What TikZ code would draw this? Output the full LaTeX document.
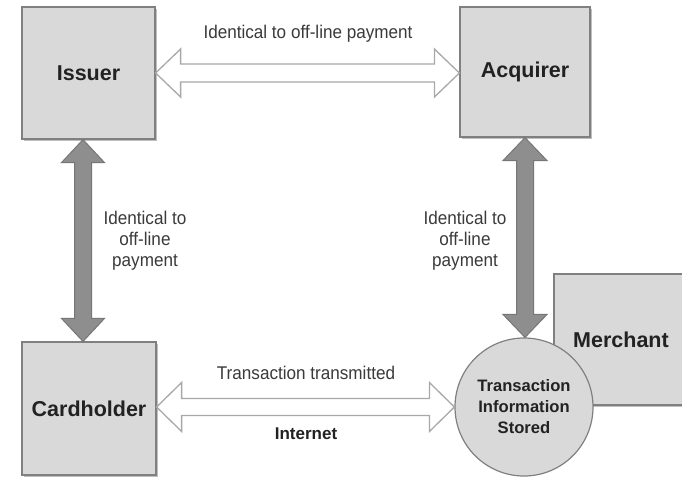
\documentclass[tikz,border=0pt]{standalone}
\usepackage{fontspec}
\setmainfont{Liberation Sans}
\newfontfamily\notefont[FakeStretch=0.93]{Liberation Sans}
\usetikzlibrary{calc,shadows,shapes.geometric}

\definecolor{boxfill}{HTML}{D9D9D9}
\definecolor{boxline}{HTML}{808080}
\definecolor{shaftfill}{HTML}{8E8E8E}
\definecolor{shaftline}{HTML}{767676}
\definecolor{hollowline}{HTML}{A8A8A8}
\definecolor{labeltext}{HTML}{222222}
\definecolor{notetext}{HTML}{3A3A3A}

\tikzset{
  party/.style={draw=boxline, fill=boxfill, line width=1.2pt, inner sep=0pt,
    text=labeltext, font=\fontsize{21.5}{25}\selectfont\bfseries,
    drop shadow={shadow xshift=1.5pt, shadow yshift=-1.5pt, opacity=0.25, fill=black}},
  store/.style={ellipse, draw=boxline, fill=boxfill, line width=1.2pt, inner sep=0pt,
    text=labeltext, align=center, font=\fontsize{16.6}{21}\selectfont\bfseries},
  note/.style={text=notetext, align=center, inner sep=0pt,
    font=\notefont\fontsize{18.4}{21}\selectfont},
  boldnote/.style={text=labeltext, align=center, inner sep=0pt,
    font=\fontsize{17}{21}\selectfont\bfseries},
  solidarrow/.style={fill=shaftfill, draw=shaftline, line width=1pt, line join=miter},
  hollowarrow/.style={fill=white, draw=hollowline, line width=1.3pt, line join=miter}
}

% Double-headed block arrow between two points:
% #1 style, #2 from, #3 to, #4 shaft half-width, #5 head half-width, #6 head length
\newcommand\blockarrow[6]{%
  \draw[#1]
    (#2)
    -- ($(#2)!#6!(#3)!#5!90:(#3)$)
    -- ($(#2)!#6!(#3)!#4!90:(#3)$)
    -- ($(#3)!#6!(#2)!#4!-90:(#2)$)
    -- ($(#3)!#6!(#2)!#5!-90:(#2)$)
    -- (#3)
    -- ($(#3)!#6!(#2)!#5!90:(#2)$)
    -- ($(#3)!#6!(#2)!#4!90:(#2)$)
    -- ($(#2)!#6!(#3)!#4!-90:(#3)$)
    -- ($(#2)!#6!(#3)!#5!-90:(#3)$)
    -- cycle;}

\begin{document}
\begin{tikzpicture}[x=1pt, y=-1pt]
  \useasboundingbox (0,0) rectangle (682,480);
  \clip (0,0) rectangle (682,480);
  \fill[white] (0,0) rectangle (682,480);

  % the four parties
  \node[party, minimum width=133pt, minimum height=132pt] (iss)  at (88.5,73)  {Issuer};
  \node[party, minimum width=130pt, minimum height=130pt] (acq)  at (525,72)   {Acquirer};
  \node[party, minimum width=134pt, minimum height=133pt] (card) at (89,408.5) {Cardholder};
  \node[party, minimum width=134pt, minimum height=131pt] (merch) at (621,339.5) {Merchant};

  % merchant's transaction store, drawn over the merchant box
  \node[store, minimum width=138pt, minimum height=138pt] (db) at (524,407)
    {Transaction\\Information\\Stored};

  % connectors
  \coordinate (topL) at (iss.east);
  \coordinate (topR) at (iss.east -| acq.west);
  \blockarrow{hollowarrow}{topL}{topR}{9pt}{24pt}{25pt}

  \coordinate (botL) at ([yshift=1.5pt]card.east);
  \coordinate (botR) at (botL -| db.west);
  \blockarrow{hollowarrow}{botL}{botR}{8.5pt}{24.5pt}{25pt}

  \coordinate (lefT) at ([xshift=-5.5pt]iss.south);
  \coordinate (lefB) at (lefT |- card.north);
  \blockarrow{solidarrow}{lefT}{lefB}{8.5pt}{21.5pt}{23pt}

  \coordinate (rigT) at (acq.south);
  \coordinate (rigB) at (rigT |- db.north);
  \blockarrow{solidarrow}{rigT}{rigB}{8.5pt}{22pt}{23pt}

  % connector labels
  \node[note] (t1) at (308,34) {Identical to off-line payment};
  \node[note] (t2) at (145,241) {Identical to\\off-line\\payment};
  \node[note] (t3) at (465,241) {Identical to\\off-line\\payment};
  \node[note] (t4) at (306,373) {Transaction transmitted};
  \node[boldnote] (t5) at (306,434) {Internet};
\end{tikzpicture}
\end{document}
